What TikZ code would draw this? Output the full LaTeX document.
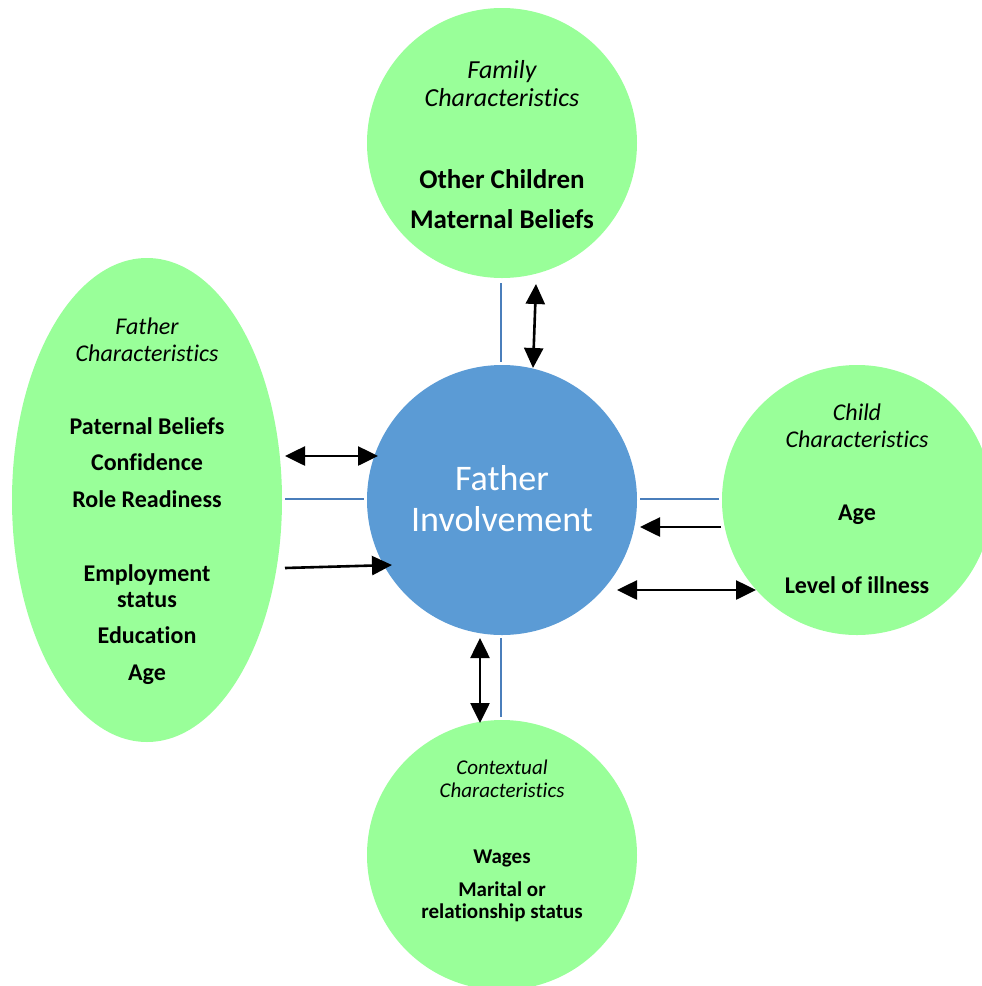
\documentclass[tikz,border=0pt]{standalone}
\usepackage{fontspec}
\setmainfont[Ligatures={NoCommon}]{Carlito}
\usetikzlibrary{arrows.meta,shapes.geometric}
\definecolor{lgreen}{HTML}{99FF99}
\definecolor{cblue}{HTML}{5B9BD5}
\definecolor{lblue}{HTML}{4A7EBB}
\tikzset{
  bubble/.style={circle,fill=lgreen,draw=none,minimum size=270pt,inner sep=0pt},
  hub/.style={circle,fill=cblue,draw=none,minimum size=270pt,inner sep=0pt},
  link/.style={draw=lblue,line width=2.6pt},
  arr/.style={draw=black,line width=2.6pt,-{Triangle[length=20pt 0 0,width=19pt 0 0]}},
  darr/.style={draw=black,line width=2.6pt,{Triangle[length=20pt 0 0,width=19pt 0 0]}-{Triangle[length=20pt 0 0,width=19pt 0 0]}},
  ititle/.style={font=\fontsize{24}{28}\selectfont\itshape,anchor=base,inner sep=0pt},
  bitem/.style={font=\fontsize{24}{28}\selectfont\bfseries,anchor=base,inner sep=0pt},
}
\begin{document}
\begin{tikzpicture}[x=1pt,y=-1pt]
\useasboundingbox (0,0) rectangle (982,986);
% shapes
\node[bubble] (fam) at (502,143) {};
\node[bubble] (child) at (857,500) {};
\node[bubble] (ctx) at (502,855) {};
\node[ellipse,fill=lgreen,draw=none,minimum width=270pt,minimum height=484pt,inner sep=0pt] (fat) at (147,500) {};
\node[hub] (fi) at (502,500) {};
% center text
\node[font=\fontsize{36}{40}\selectfont,text=white,anchor=base,inner sep=0pt] (t1) at (502,490) {Father};
\node[font=\fontsize{36}{40}\selectfont,text=white,anchor=base,inner sep=0pt] (t2) at (502,531) {Involvement};
% family
\node[ititle,font=\fontsize{26}{28}\selectfont\itshape] (fa1) at (502,78) {Family};
\node[ititle,font=\fontsize{26}{28}\selectfont\itshape] (fa2) at (502,106) {Characteristics};
\node[bitem,font=\fontsize{27}{28}\selectfont\bfseries] (fa3) at (502,188) {Other Children};
\node[bitem,font=\fontsize{27}{28}\selectfont\bfseries] (fa4) at (502,228) {Maternal Beliefs};
% father
\node[ititle] (fc1) at (147,334) {Father};
\node[ititle] (fc2) at (147,361) {Characteristics};
\node[bitem] (fc3) at (147,434) {Paternal Beliefs};
\node[bitem] (fc4) at (147,470) {Confidence};
\node[bitem] (fc5) at (147,507) {Role Readiness};
\node[bitem] (fc6) at (147,581) {Employment};
\node[bitem] (fc7) at (147,607) {status};
\node[bitem] (fc8) at (147,643) {Education};
\node[bitem] (fc9) at (147,680) {Age};
% child
\node[ititle] (cc1) at (857,420) {Child};
\node[ititle] (cc2) at (857,447) {Characteristics};
\node[bitem] (cc3) at (857,520) {Age};
\node[bitem] (cc4) at (857,593) {Level of illness};
% contextual
\node[ititle,font=\fontsize{21}{24}\selectfont\itshape] (cx1) at (502,774) {Contextual};
\node[ititle,font=\fontsize{21}{24}\selectfont\itshape] (cx2) at (502,797) {Characteristics};
\node[bitem,font=\fontsize{21}{24}\selectfont\bfseries] (cx3) at (502,863) {Wages};
\node[bitem,font=\fontsize{21}{24}\selectfont\bfseries] (cx4) at (502,896) {Marital or};
\node[bitem,font=\fontsize{21}{24}\selectfont\bfseries] (cx5) at (502,918) {relationship status};
% connector anchors
\coordinate (lt1) at (501,283); \coordinate (lt2) at (501,362);
\coordinate (lb1) at (501,638); \coordinate (lb2) at (501,717);
\coordinate (ll1) at (285,499); \coordinate (ll2) at (364,499);
\coordinate (lr1) at (640,499); \coordinate (lr2) at (719,499);
\coordinate (at1) at (536,284); \coordinate (at2) at (533,368);
\coordinate (al1) at (285,456); \coordinate (al2) at (378,456);
\coordinate (am1) at (285,568); \coordinate (am2) at (392,565);
\coordinate (ar1) at (721,527); \coordinate (ar2) at (640,527);
\coordinate (ad1) at (617,590); \coordinate (ad2) at (756,590);
\coordinate (ab1) at (480,638); \coordinate (ab2) at (480,723);
% blue links
\draw[link] (lt1) -- (lt2);
\draw[link] (lb1) -- (lb2);
\draw[link] (ll1) -- (ll2);
\draw[link] (lr1) -- (lr2);
% arrows
\draw[darr] (at1) -- (at2);
\draw[darr] (al1) -- (al2);
\draw[arr] (am1) -- (am2);
\draw[arr] (ar1) -- (ar2);
\draw[darr] (ad1) -- (ad2);
\draw[darr] (ab1) -- (ab2);
\end{tikzpicture}
\end{document}
